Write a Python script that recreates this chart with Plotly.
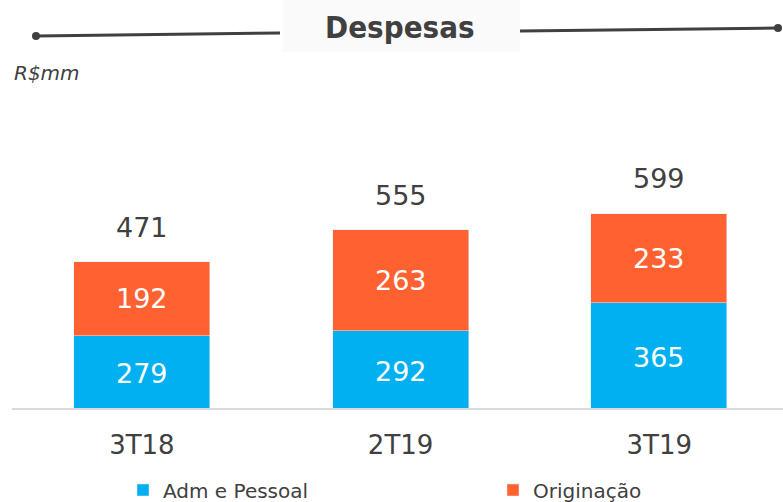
import plotly.graph_objects as go

# dados (R$ milhões)
categorias = ["3T18", "2T19", "3T19"]
adm_pessoal = [279, 292, 365]
originacao = [192, 263, 233]
totais = [471, 555, 599]

AZUL = "#00B0F0"
LARANJA = "#FF6131"
CINZA = "#404040"
FONTE = "DejaVu Sans, Verdana, sans-serif"
Y_MIN = 90

W, H = 783, 502
ML, MR, MT, MB = 12, 0, 100, 94
PW, PH = W - ML - MR, H - MT - MB


def px(x):
    return (x - ML) / PW


def py(y):
    return (H - MB - y) / PH


fig = go.Figure()

fig.add_trace(go.Bar(
    x=list(range(len(categorias))),
    y=adm_pessoal,
    name="Adm e Pessoal",
    marker_color=AZUL,
    textposition="none",
    width=0.526,
))

fig.add_trace(go.Bar(
    x=list(range(len(categorias))),
    y=originacao,
    name="Originação",
    marker_color=LARANJA,
    text=originacao,
    textposition="inside",
    insidetextanchor="middle",
    textfont=dict(color="white", size=27, family=FONTE),
    width=0.526,
))

# rótulo do segmento azul no centro da parte visível
for i, v in enumerate(adm_pessoal):
    fig.add_annotation(x=i, y=(Y_MIN + v) / 2, text=str(v), showarrow=False,
                       yshift=-2, font=dict(size=27, color="white", family=FONTE))

for i, t in enumerate(totais):
    fig.add_annotation(x=i, y=t, text=str(t), showarrow=False,
                       yanchor="bottom", yshift=17,
                       font=dict(size=27, color=CINZA, family=FONTE))

# titulo com linhas
fig.add_shape(type="rect", xref="paper", yref="paper",
              x0=px(283), x1=px(520), y0=py(52), y1=py(0),
              fillcolor="#FAFAFA", line_width=0, layer="below")
fig.add_shape(type="line", xref="paper", yref="paper",
              x0=px(36), y0=py(36), x1=px(280), y1=py(33),
              line=dict(color=CINZA, width=3))
fig.add_shape(type="line", xref="paper", yref="paper",
              x0=px(520), y0=py(31), x1=px(778), y1=py(28),
              line=dict(color=CINZA, width=3))
for cx, cy in [(36, 36), (778, 28)]:
    fig.add_shape(type="circle", xref="paper", yref="paper",
                  x0=px(cx - 4), x1=px(cx + 4), y0=py(cy + 4), y1=py(cy - 4),
                  fillcolor=CINZA, line_width=0)

fig.add_annotation(xref="paper", yref="paper", x=px(400), y=py(27),
                   xanchor="center", yanchor="middle",
                   text="<b>Despesas</b>", showarrow=False,
                   font=dict(size=31, color=CINZA,
                             family="DejaVu Sans Condensed, Liberation Sans Narrow, sans-serif"))
fig.add_annotation(xref="paper", yref="paper", x=px(12), y=py(73),
                   xanchor="left", yanchor="middle",
                   text="<i>R$mm</i>", showarrow=False,
                   font=dict(size=20, color=CINZA, family=FONTE))

fig.update_layout(
    width=W, height=H,
    margin=dict(l=ML, r=MR, t=MT, b=MB, autoexpand=False),
    barmode="stack",
    bargap=0,
    plot_bgcolor="white",
    paper_bgcolor="white",
    showlegend=True,
    legend=dict(orientation="h", x=px(123), y=py(490), yanchor="middle",
                xanchor="left", entrywidth=325, traceorder="normal",
                font=dict(size=20, color=CINZA, family=FONTE),
                bgcolor="rgba(0,0,0,0)"),
    xaxis=dict(tickmode="array", tickvals=list(range(len(categorias))),
               ticktext=categorias, range=[-0.502, 2.478],
               showline=True, linecolor="#D9D9D9", linewidth=2,
               showgrid=False, zeroline=False, ticks="",
               ticklabelstandoff=13,
               tickfont=dict(size=26, color=CINZA, family=FONTE)),
    yaxis=dict(range=[Y_MIN, 896], visible=False, showgrid=False),
)

fig.write_html("out.html", config={"displayModeBar": False},
               post_script="document.body.style.margin='0';")
